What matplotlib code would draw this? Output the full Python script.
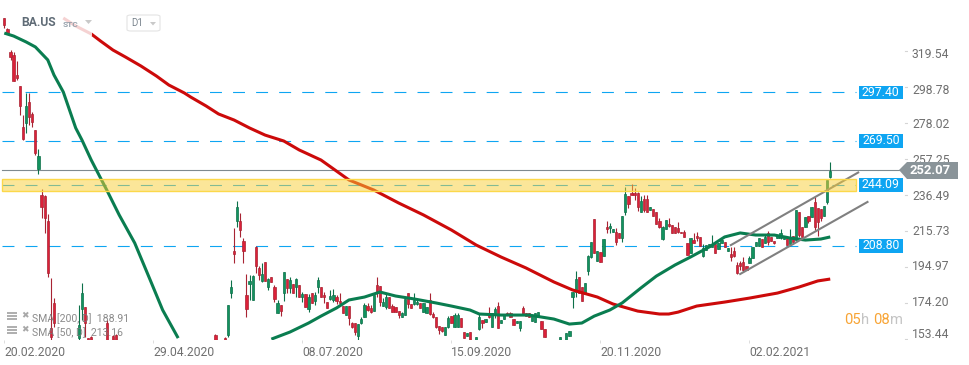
"""
BA.US daily chart with SMA 50/200, support levels and a rising channel.
"""
import matplotlib

matplotlib.use("Agg")
import matplotlib.pyplot as plt
import numpy as np
from matplotlib.patches import FancyBboxPatch, Polygon, Rectangle

nan = float("nan")

# bars that can be seen; the others of spring 2020 lie below the chart
bar_idx = list(range(0, 17)) + [24, 25, 26, 27, 28, 33, 35, 36, 68, 71] + list(range(72, 267))

opens = [
    340.4, 334.1, 320.8, 319, 307.5, 301.1, 277.5, 279.8, 291.9, 285, 275.7, 253.2, 238.2, 237.6, 223.2, 161.4, 175.8,
    155.6, 172.4, 173.5, 155.6, 156.2, 164.3, 156.8, 157.4, 157.4, 155.6,
    157.4, 181.6, 205.9, 223.2, 223.2, 211.6, 180.5, 186.8,  # 72-79
    177.6, 208.2, 196.1, 188.6, 199.5, 185.1, 190.9, 185.1, 170, 174.7,  # 80-89
    181.6, 189.7, 184.5, 186.8, 185.1, 186.2, 179.3, 181, 172.4, 181.6,  # 90-99
    177, 185.1, 185.1, 180.5, 176.4, 178.2, 177.6, 179.3, 177, 174.1,  # 100-109
    168.9, 174.1, 164.3, 164.3, 156.8, 164.3, 167.8, 174.1, 172.9, 171.2,  # 110-119
    186.2, 185.7, 174.1, 173.5, 179.3, 174.1, 173.5, 171.2, 167.8, 168.9,  # 120-129
    181.6, 175.3, 175.3, 175.3, 175.8, 170.6, 170, 177.6, 169.5, 167.8,  # 130-139
    162.6, 162, 157.4, 162, 168.3, 162, 162, 167.2, 159.1, 156.8,  # 140-149
    159.1, nan, 153.3, 160.8, 166, 164.9, 170, 162, 169.5, 174.1,  # 150-159
    164.3, 166.6, 170, 170, 166.6, 164.3, 161.4, 172.9, 170, 170,  # 160-169
    165.5, 164.9, 167.8, 165.5, 160.8, nan, nan, nan, nan, 153.3,  # 170-179
    nan, 153.3, 156.8, 179.3, 182.2, 190.9, 185.1, 181, 194.3, 202.4,  # 180-189
    224.3, 200.1, 205.3, 203, 219.7, 219.2, 216.8, 216.8, 216.3, 213.4,  # 190-199
    228.4, 237.6, 239.4, 239.4, 239.4, 228.4, 235.9, 235.9, 229.5, 230.1,  # 200-209
    228.4, 223.2, 212.8, 218.6, 221.5, 220.9, 219.7, 219.2, 216.8, 216.8,  # 210-219
    210.5, 204.7, 212.2, 214.5, 213.9, 203, 206.4, 208.2, 208.2, 209.9,  # 220-229
    207, 210.5, 211, 205.9, 204.1, 205.9, 197.8, 198.9, 199.5, 197.2,  # 230-239
    199, 201.8, 208.8, 208.8, 212.8, 210.5, 216.3, 213.9, 211.6, 213.4,  # 240-249
    213.4, 212.8, 213.4, 209.9, 214.5, 212.2, 228.4, 219.7, 219.7, 226.1,  # 250-259
    225.5, 234.2, 230.7, 230.1, 226.1, 234.2, 248.6,  # 260-266
]
closes = [
    336.4, 331.7, 317.9, 304, 305.8, 289.6, 270.5, 289.6, 283.2, 280.4, 262.5, 260.7, 231.3, 224.9, 193.2, 156, 164.3,
    163.1, 181.6, 164.3, 153.3, 153.3, 153.3, 153.3, 153.3, 153.3, 153.3,
    174.7, 185.1, 204.1, 231.3, 218, 205.9, 172.4, 188.6,  # 72-79
    191.5, 197.2, 192, 192.6, 188.6, 189.7, 188, 178.2, 175.8, 171.2,  # 80-89
    193.7, 184.5, 189.1, 181.6, 189.7, 179.3, 181, 173.5, 179.3, 175.8,  # 90-99
    180.5, 189.1, 179.3, 179.3, 173, 179.9, 180.5, 177, 175.8, 170,  # 100-109
    174.1, 167.2, 162, 159.1, 163.7, 166.6, 174.7, 171.8, 170.6, 180.5,  # 110-119
    182.2, 176.4, 176.4, 179.3, 173, 170.6, 170.6, 168.9, 170, 178.2,  # 120-129
    175.3, 173, 177.6, 176.4, 173, 175.8, 173.5, 169.5, 167.8, 162,  # 130-139
    160.3, 159.7, 162, 167.2, 164.3, 168.9, 168.9, 162, 155.6, 158.5,  # 140-149
    153.3, nan, 156.2, 167.8, 164.3, 166.6, 167.8, 170, 172.4, 161.4,  # 150-159
    166, 168.9, 168.9, 167.8, 163.1, 165.5, 165.5, 169.5, 168.3, 167.8,  # 160-169
    168.3, 170, 170.6, 160.8, 156.2, nan, nan, nan, nan, 156.2,  # 170-179
    nan, 158.5, 159.7, 182.2, 189.7, 181.6, 177, 187.4, 203, 211,  # 180-189
    204.7, 205.9, 199.5, 212.8, 218.6, 220.3, 218.6, 211, 213.4, 226.1,  # 190-199
    238.8, 233, 238.2, 238.2, 231.3, 234.7, 229.5, 228.4, 231.3, 226.1,  # 200-209
    221.5, 219.7, 219.7, 223.8, 220.3, 216.3, 216.3, 216.8, 216.3, 213.9,  # 210-219
    203.6, 213.4, 210.5, 213.4, 208.8, 207.6, 209.3, 209.9, 209.3, 204.7,  # 220-229
    210.5, 212.2, 208.2, 207.6, 202.4, 203, 193.2, 197.2, 194.9, 194.9,  # 230-239
    201.8, 208.2, 211, 213.4, 208.2, 213.9, 211, 211.6, 210.5, 215.1,  # 240-249
    216.3, 214.5, 209.3, 213.9, 211, 229.5, 215.1, 214, 225.5, 223.2,  # 250-259
    231.3, 219.7, 222.6, 224.9, 231.9, 246.9, 252.07,  # 260-266
]
highs = [
    340.4, 334.6, 321.9, 320.8, 315.6, 301.1, 284.4, 297.1, 297.1, 286.1, 275.7, 264.8, 241.7, 238.2, 227.2, 190.3, 178.7,
    174.7, 187.4, 173.5, 155.6, 156.8, 166, 157.4, 158, 158, 156.2,
    174.7, 189.1, 219.2, 234.7, 227.8, 213.4, 192.6, 192,  # 72-79
    192, 208.8, 197.2, 199, 199.5, 190.3, 190.9, 186.2, 177.6, 174.7,  # 80-89
    193.7, 189.7, 190.9, 186.8, 190.3, 186.2, 182.2, 181, 181, 181.6,  # 90-99
    182.2, 190.9, 185.1, 182.2, 176.4, 183.4, 184, 180.5, 181.6, 174.1,  # 100-109
    174.1, 174.1, 164.9, 164.3, 163.7, 167.8, 175.8, 175.8, 174.7, 180.5,  # 110-119
    190.9, 185.7, 178.7, 181.6, 179.3, 175.3, 173.5, 171.2, 170.6, 178.2,  # 120-129
    181.6, 175.3, 181.6, 177.6, 175.8, 175.8, 173.5, 181.6, 170.6, 167.8,  # 130-139
    162.6, 162, 162, 168.3, 168.3, 170, 170, 167.2, 159.1, 158.5,  # 140-149
    159.1, nan, 156.2, 170, 166, 166.6, 173.5, 170, 173.5, 176.4,  # 150-159
    166, 168.9, 170.6, 170.6, 166.6, 165.5, 165.5, 174.1, 170, 170,  # 160-169
    168.3, 170, 170.6, 165.5, 160.8, nan, nan, nan, nan, 156.2,  # 170-179
    nan, 158.5, 159.7, 182.2, 194.3, 190.9, 185.1, 187.4, 203.6, 211,  # 180-189
    224.3, 205.9, 205.3, 212.8, 223.2, 222, 218.6, 219.2, 216.3, 226.1,  # 190-199
    242.8, 237.6, 244.6, 242.2, 240, 237.6, 238.2, 238.2, 231.3, 230.1,  # 200-209
    228.4, 224.9, 220.3, 223.8, 224.9, 220.9, 219.7, 222.6, 216.8, 218,  # 210-219
    210.5, 213.4, 216.3, 216.8, 213.9, 209.9, 209.3, 209.9, 215.1, 209.9,  # 220-229
    210.5, 212.2, 211, 207.6, 208.2, 208.2, 199.5, 200.1, 202.4, 197.2,  # 230-239
    203, 208.2, 211, 213.4, 212.8, 215.1, 217.4, 213.9, 211.6, 215.1,  # 240-249
    218.6, 214.5, 213.4, 218.6, 214.5, 229.5, 228.4, 219.7, 225.5, 226.1,  # 250-259
    231.3, 237, 230.7, 230.1, 231.9, 246.9, 257.3,  # 260-266
]
lows = [
    334.6, 331.7, 316.2, 304, 304.6, 284.4, 270, 274, 278.6, 277.5, 261.3, 250.3, 224.9, 216.3, 190.9, 154.5, 162,
    154.5, 166, 156.2, 153.3, 153.3, 153.3, 153.3, 153.3, 153.3, 153.3,
    156.2, 178.7, 198.9, 219.7, 214, 198.9, 167.8, 177.6,  # 72-79
    177.6, 193.2, 189.1, 188, 188.6, 183.4, 188, 176.4, 170, 168.3,  # 80-89
    177, 181.6, 181.6, 181.6, 179.3, 179.3, 176.4, 173.5, 170.6, 175.8,  # 90-99
    174.7, 181.6, 179.3, 175.8, 173, 177.6, 176.4, 175.3, 174.7, 170,  # 100-109
    168.9, 163.1, 161.4, 157.4, 154.5, 163.7, 167.8, 171.2, 170, 171.2,  # 110-119
    179.3, 174.1, 174.1, 172.4, 173, 170.6, 170.6, 167.2, 167.8, 168.9,  # 120-129
    173, 173, 174.7, 174.7, 173, 170.6, 170, 168.9, 167.2, 161.4,  # 130-139
    158, 159.1, 157.4, 161.4, 164.3, 162, 162, 162, 155.6, 156.8,  # 140-149
    153.3, nan, 153.3, 160.3, 161.4, 164.9, 167.2, 162, 167.2, 161.4,  # 150-159
    164.3, 166.6, 168.9, 167.8, 163.1, 164.3, 159.7, 168.9, 168.3, 167.8,  # 160-169
    165.5, 164.9, 167.8, 160.8, 156.2, nan, nan, nan, nan, 153.3,  # 170-179
    nan, 153.3, 156.8, 173, 179.3, 181.6, 177, 181, 192, 201.8,  # 180-189
    204.7, 200.1, 199.5, 203, 216.3, 216.3, 216.8, 209.3, 213.4, 211,  # 190-199
    226.7, 230.7, 238.2, 235.3, 229, 228.4, 228.4, 228.4, 229.5, 226.1,  # 200-209
    221.5, 219.2, 212.2, 218.6, 219.7, 216.3, 216.3, 216.3, 216.3, 213.9,  # 210-219
    203.6, 204.7, 210.5, 211.6, 208.8, 202.4, 206.4, 208.2, 208.2, 204.7,  # 220-229
    207, 210.5, 208.2, 205.9, 200.1, 202.4, 192.6, 194.9, 193.7, 194.9,  # 230-239
    199, 201.8, 208.8, 208.8, 208.2, 210.5, 209.3, 211.6, 210, 213.4,  # 240-249
    212.8, 212.8, 209.3, 208.8, 209.9, 212.2, 213.9, 214, 219.7, 222,  # 250-259
    225.5, 218, 214.5, 223.2, 226.1, 233, 248,  # 260-266
]

sma200_idx = [19, 23, 28, 31, 35, 39, 44, 49, 53, 58, 60, 65, 69, 74, 79, 84, 90, 95, 102, 111,
              119, 127, 135, 144, 152, 160, 168, 177, 183, 191, 196, 204, 211, 214, 217, 223, 232, 240, 249, 256,
              262, 266]
sma200_vals = [340.4, 335.8, 331.2, 327.1, 321.9, 317.9, 312.7, 306.9, 301.7, 297.1, 294.8, 289.6, 285, 281.5, 276.9,
               272.8, 269.4, 264.2, 258.4, 246.9, 241.1, 233.6, 226.7, 218, 209.3, 202.4, 196.1, 188, 183.4, 179.3,
               175.3, 171.2, 169.5, 169.5, 170.6, 174.1, 176.4, 178.7, 181.6, 185.1, 188.6, 189.7]

sma50_idx = [0, 3, 7, 10, 14, 16, 19, 21, 23, 25, 28, 31, 33, 37, 42, 47, 51, 56, 70, 86, 92, 98, 102, 107, 111, 116,
             121, 126, 132, 139, 144, 150, 153, 160, 169, 177, 182, 186, 190, 195, 199, 205, 210, 216, 221, 227, 232,
             237, 242, 248, 253, 258, 263, 266]
sma50_vals = [331.7, 330, 326.6, 323.7, 316.2, 307.5, 297.7, 287.3, 276.9, 270, 258.4, 248, 241.1, 226.7, 210.5,
              189.1, 171.8, 155.6, nan, 155, 159.1, 164.3, 168.3, 173, 177.6, 179.3, 182.2, 179.9, 178.2, 175.9,
              174.1, 171.8, 169.5, 168.9, 168.9, 166.6, 163.7, 164.3, 168.3, 171.8, 175.9, 184.5, 191.4, 197.8,
              202.4, 208.2, 214, 216.3, 215.1, 215.1, 213.4, 212.2, 212.8, 214]

levels = [297.40, 269.50, 244.09, 208.80]
band_low, band_high = 240.5, 247.5
last_price = 252.07

channel_idx = [234, 275]
channel_upper = [209.3, 251.2]
channel_lower_idx = [237, 278]
channel_lower = [192.6, 234.2]

price_ticks = [319.54, 298.78, 278.02, 257.25, 236.49, 215.73, 194.97, 174.20, 153.44]
price_tick_dy = [0, 0, 2, 2, 1, 2, 3, 3, 7]
date_idx = [0, 48, 96, 144, 192, 240]
date_labels = ["20.02.2020", "29.04.2020", "08.07.2020", "15.09.2020", "20.11.2020", "02.02.2021"]

W, H = 970, 365
RED, RED_EDGE = "#dc2039", "#a82433"
GREEN, GREEN_EDGE = "#12935f", "#0d7049"
BLUE = "#0ea5f2"
GREY = "#6f6f6f"

plt.rcParams["font.family"] = ["Roboto", "DejaVu Sans"]
plt.rcParams["lines.scale_dashes"] = False


def fx(px):
    return px / W


def fy(py):
    return 1 - py / H


fig = plt.figure(figsize=(W / 100, H / 100), dpi=100)
ax = fig.add_axes([0, 25 / H, 908 / W, 340 / H])
ax.set_xlim((0 - 4.3) / 3.105, (908 - 4.3) / 3.105)
ax.set_ylim(154.5, 350.8)
for s in ax.spines.values():
    s.set_visible(False)
ax.set_yticks([])

x_left, x_right = (2 - 4.3) / 3.105, (856 - 4.3) / 3.105

# candles
x = np.array(bar_idx, dtype=float)
o = np.array(opens)
c = np.array(closes)
hi = np.array(highs)
lo = np.array(lows)
up = c >= o
ax.vlines(x[up], lo[up], hi[up], color=GREEN_EDGE, lw=0.8, zorder=3)
ax.vlines(x[~up], lo[~up], hi[~up], color=RED_EDGE, lw=0.8, zorder=3)
ax.bar(x[up], (c - o)[up], bottom=o[up], width=0.72, color=GREEN, edgecolor=GREEN_EDGE, lw=0.5, zorder=4)
ax.bar(x[~up], (o - c)[~up], bottom=c[~up], width=0.72, color=RED, edgecolor=RED_EDGE, lw=0.5, zorder=4)

# moving averages
ax.plot(sma200_idx, sma200_vals, color="#cc0a0a", lw=2.2, zorder=5, solid_capstyle="butt")
ax.plot(sma50_idx, sma50_vals, color="#0a7d50", lw=2.2, zorder=5, solid_capstyle="butt")

# levels
for lv in levels:
    ax.plot([x_left, x_right], [lv, lv], color=BLUE, lw=0.8, ls=(0, (8.6, 8.0)), zorder=2)
    ax.add_patch(Rectangle((275.2, lv - 4.0), 14.2, 8.0, facecolor=BLUE, edgecolor="none", clip_on=False, zorder=8))
    ax.text(282.3, lv, f"{lv:.2f}", color="white", fontsize=8.8, ha="center", va="center", clip_on=False, zorder=8)
ax.plot([x_left, 288.5], [last_price + 0.5, last_price + 0.5], color="#7f8a8f", lw=0.8, zorder=2)

# channel
ax.plot(channel_idx, channel_upper, color="#808080", lw=1.5, zorder=6)
ax.plot(channel_lower_idx, channel_lower, color="#808080", lw=1.5, zorder=6)

# resistance zone drawn over the candles
ax.add_patch(Rectangle((x_left, band_low), x_right - x_left, band_high - band_low, facecolor="#f8cf35", alpha=0.5,
                       edgecolor="none", zorder=7))
ax.add_patch(Rectangle((x_left, band_low), x_right - x_left, band_high - band_low, facecolor="none",
                       edgecolor="#fcd84a", lw=1, zorder=7))

# axes labels
ax.set_xticks(date_idx)
ax.set_xticklabels(date_labels, ha="left", fontsize=8.7, color=GREY)
ax.tick_params(axis="x", length=2.5, width=0.7, color="#dddddd", pad=1.5)

yt = ax.get_yaxis_transform()
for v, dy in zip(price_ticks, price_tick_dy):
    ax.annotate(f"{v:.2f}", xy=(1, v), xycoords=yt, xytext=(4, dy), textcoords="offset pixels", fontsize=8.7,
                color=GREY, ha="left", va="center", annotation_clip=False, zorder=1)
    ax.plot([0.9965, 0.999], [v + 1.7, v + 1.7], transform=yt, color="#d5d5d5", lw=0.8)

# last price tag
fig.patches.append(Polygon([[fx(899), fy(170)], [fx(907), fy(162)], [fx(958), fy(162)], [fx(958), fy(179)],
                            [fx(907), fy(179)]], closed=True, transform=fig.transFigure, facecolor="#8a9499",
                           edgecolor="none", zorder=9))
fig.text(fx(910), fy(170.5), f"{last_price:.2f}", color="white", fontsize=9.4, fontweight="bold", va="center",
         zorder=10)

# header
fig.patches.append(Rectangle((fx(56), fy(36)), 36 / W, 26 / H, transform=fig.transFigure, facecolor="white",
                             alpha=0.82, edgecolor="none", zorder=9))
fig.text(fx(21), fy(23), "BA.US", color="#5f6b76", fontsize=8.7, fontweight="bold", va="center", zorder=10)
fig.text(fx(63), fy(24.5), "STC", color="#97a2ac", fontsize=6, fontweight="bold", va="center", zorder=10)
fig.patches.append(Polygon([[fx(85), fy(20)], [fx(92), fy(20)], [fx(88.5), fy(24)]], transform=fig.transFigure,
                           facecolor="#c9c9c9", edgecolor="none", zorder=10))
fig.patches.append(FancyBboxPatch((fx(127), fy(31)), 33 / W, 16 / H, boxstyle="round,pad=0,rounding_size=0.004",
                                  transform=fig.transFigure, facecolor="white", edgecolor="#e4e4e4", lw=0.8,
                                  zorder=9))
fig.text(fx(131), fy(23.5), "D1", color="#7b858e", fontsize=7, va="center", zorder=10)
fig.patches.append(Polygon([[fx(150), fy(22)], [fx(156), fy(22)], [fx(153), fy(25.5)]], transform=fig.transFigure,
                           facecolor="#c9c9c9", edgecolor="none", zorder=10))

# indicator legend
for py, txt in [(319, "SMA [200, D]  188.91"), (332.5, "SMA [50, D]  213.16")]:
    fig.text(fx(32), fy(py), txt, color="#777777", alpha=0.85, fontsize=7.6, va="center", zorder=10)
    for k in (0, 3, 6):
        fig.patches.append(Rectangle((fx(7), fy(py - 7 + k + 2)), 10 / W, 2 / H, transform=fig.transFigure,
                                     facecolor="#a8a8a8", edgecolor="none", alpha=0.9, zorder=10))
    fig.text(fx(24.5), fy(py - 3), "\u2716", family="DejaVu Sans", color="#a8a8a8", fontsize=6.5, ha="center",
             va="center", zorder=10)

# candle countdown
for px, txt, col in [(844, "05", "#f8a434"), (861, "h", "#c4c4c4"), (873, "08", "#f8a434"), (890, "m", "#c4c4c4")]:
    fig.text(fx(px), fy(320), txt, color=col, fontsize=10.6, va="center", zorder=10)

fig.savefig("out.png", dpi=100)
plt.close(fig)
